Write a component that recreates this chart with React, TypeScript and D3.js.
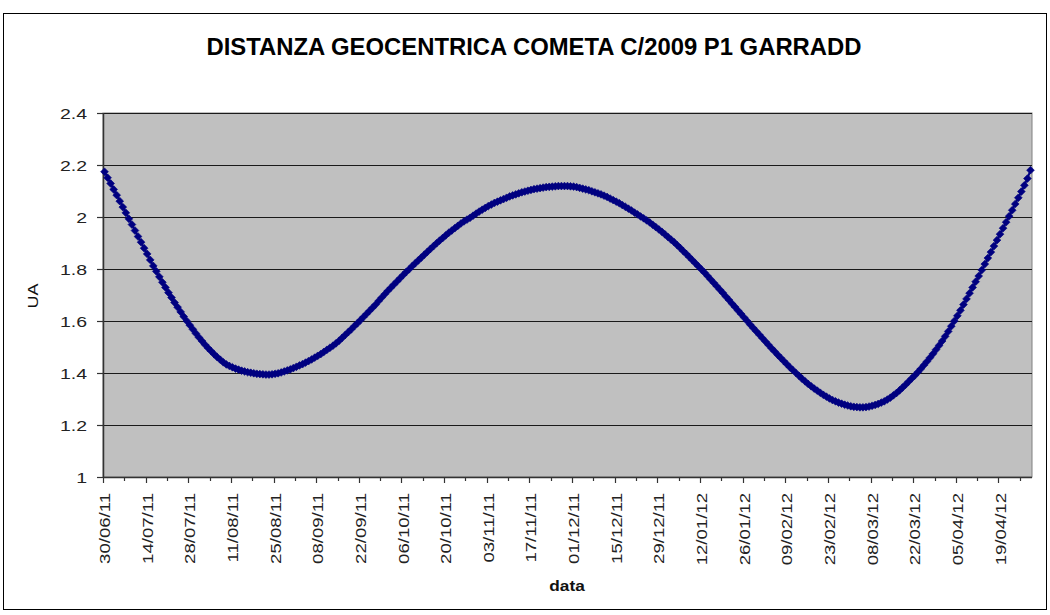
import React from "react";
import * as d3 from "d3";

const title = "DISTANZA GEOCENTRICA COMETA C/2009 P1 GARRADD";
const yTitle = "UA";
const xTitle = "data";
const startDate = new Date(2011, 5, 30);

// Daily geocentric distance (UA), 30/06/11 .. 29/04/12
const distances = [
  2.174, 2.151, 2.129, 2.106, 2.084, 2.061, 2.038, 2.016, 1.993, 1.971,
  1.948, 1.925, 1.903, 1.880, 1.858, 1.835, 1.812, 1.791, 1.770, 1.749,
  1.729, 1.709, 1.690, 1.671, 1.653, 1.635, 1.617, 1.600, 1.584, 1.568,
  1.552, 1.537, 1.523, 1.509, 1.496, 1.484, 1.472, 1.461, 1.451, 1.441,
  1.433, 1.427, 1.422, 1.417, 1.413, 1.409, 1.406, 1.403, 1.401, 1.399,
  1.397, 1.396, 1.395, 1.394, 1.394, 1.395, 1.397, 1.399, 1.402, 1.406,
  1.410, 1.414, 1.419, 1.424, 1.429, 1.434, 1.440, 1.446, 1.452, 1.459,
  1.466, 1.473, 1.481, 1.489, 1.497, 1.505, 1.514, 1.524, 1.535, 1.546,
  1.557, 1.568, 1.580, 1.591, 1.603, 1.615, 1.627, 1.639, 1.651, 1.663,
  1.677, 1.690, 1.703, 1.716, 1.728, 1.740, 1.752, 1.764, 1.776, 1.788,
  1.799, 1.811, 1.822, 1.833, 1.844, 1.855, 1.866, 1.877, 1.888, 1.899,
  1.909, 1.919, 1.929, 1.939, 1.948, 1.957, 1.966, 1.975, 1.983, 1.990,
  1.997, 2.005, 2.013, 2.021, 2.028, 2.035, 2.042, 2.048, 2.054, 2.059,
  2.064, 2.069, 2.074, 2.079, 2.083, 2.087, 2.091, 2.095, 2.098, 2.101,
  2.104, 2.107, 2.109, 2.111, 2.113, 2.115, 2.116, 2.117, 2.118, 2.119,
  2.119, 2.119, 2.119, 2.118, 2.117, 2.115, 2.112, 2.109, 2.106, 2.103,
  2.099, 2.095, 2.091, 2.087, 2.082, 2.077, 2.071, 2.065, 2.059, 2.053,
  2.046, 2.039, 2.032, 2.025, 2.017, 2.010, 2.002, 1.995, 1.987, 1.979,
  1.970, 1.961, 1.952, 1.943, 1.933, 1.923, 1.913, 1.903, 1.892, 1.881,
  1.869, 1.858, 1.846, 1.834, 1.822, 1.810, 1.798, 1.786, 1.773, 1.760,
  1.747, 1.734, 1.721, 1.708, 1.694, 1.681, 1.667, 1.654, 1.640, 1.627,
  1.613, 1.600, 1.586, 1.573, 1.560, 1.547, 1.534, 1.521, 1.508, 1.495,
  1.483, 1.470, 1.458, 1.446, 1.434, 1.422, 1.411, 1.400, 1.389, 1.378,
  1.368, 1.358, 1.349, 1.340, 1.332, 1.324, 1.316, 1.309, 1.302, 1.296,
  1.291, 1.286, 1.282, 1.278, 1.275, 1.272, 1.270, 1.269, 1.268, 1.268,
  1.269, 1.271, 1.274, 1.277, 1.281, 1.286, 1.291, 1.298, 1.305, 1.314,
  1.323, 1.333, 1.344, 1.355, 1.367, 1.379, 1.390, 1.403, 1.416, 1.430,
  1.444, 1.459, 1.474, 1.490, 1.506, 1.523, 1.541, 1.560, 1.580, 1.600,
  1.620, 1.641, 1.663, 1.685, 1.707, 1.729, 1.751, 1.773, 1.796, 1.819,
  1.842, 1.865, 1.888, 1.911, 1.934, 1.957, 1.980, 2.003, 2.026, 2.050,
  2.074, 2.098, 2.122, 2.148, 2.180,
];

const xTickLabels = [
  "30/06/11", "14/07/11", "28/07/11", "11/08/11", "25/08/11", "08/09/11",
  "22/09/11", "06/10/11", "20/10/11", "03/11/11", "17/11/11", "01/12/11",
  "15/12/11", "29/12/11", "12/01/12", "26/01/12", "09/02/12", "23/02/12",
  "08/03/12", "22/03/12", "05/04/12", "19/04/12",
];

const yTicks = [1, 1.2, 1.4, 1.6, 1.8, 2, 2.2, 2.4];

const fmt = d3.timeFormat("%d/%m/%y");
const categories = distances.map((_, i) => fmt(d3.timeDay.offset(startDate, i)));

export default function App() {
  const W = 1050, H = 615;
  const left = 103, right = 1032, top = 113, bottom = 477;

  const x = d3.scaleBand<string>().domain(categories).range([left, right]).padding(0);
  const y = d3.scaleLinear().domain([1, 2.4]).range([bottom, top]);
  const bw = x.bandwidth();
  const cx = (c: string) => (x(c) as number) + bw / 2;

  const line = d3
    .line<number>()
    .x((_, i) => cx(categories[i]))
    .y((d) => y(d));

  const marker = d3.symbol().type(d3.symbolSquare).size(30)() as string;

  const tickIdx = categories.map((_, i) => i).filter((i) => i % 7 === 0);

  return (
    <svg
      width={W}
      height={H}
      style={{ position: "absolute", left: 0, top: 0, background: "#fff" }}
      fontFamily="'Liberation Sans', Arial, sans-serif"
    >
      <rect x={0} y={0} width={W} height={H} fill="#fff" />
      <rect x={3.5} y={13.5} width={1043} height={596} fill="#fff" stroke="#000" strokeWidth={1} />

      <text
        x={534}
        y={55}
        textAnchor="middle"
        fontSize={23.5}
        fontWeight="bold"
        fill="#000"
        textLength={655}
        lengthAdjust="spacingAndGlyphs"
      >
        {title}
      </text>

      {/* plot area */}
      <rect x={left} y={top} width={right - left} height={bottom - top} fill="#c0c0c0" stroke="#808080" strokeWidth={1} />

      {yTicks.slice(1).map((t) => (
        <line key={"g" + t} x1={left} x2={right} y1={Math.round(y(t)) + 0.5} y2={Math.round(y(t)) + 0.5} stroke="#1a1a1a" strokeWidth={1} />
      ))}

      {/* axes */}
      <line x1={left + 0.5} x2={left + 0.5} y1={top} y2={bottom} stroke="#333" strokeWidth={1.5} />
      <line x1={left} x2={right} y1={bottom + 0.5} y2={bottom + 0.5} stroke="#333" strokeWidth={1.5} />

      {yTicks.map((t) => (
        <g key={"y" + t}>
          <line x1={left - 6} x2={left} y1={Math.round(y(t)) + 0.5} y2={Math.round(y(t)) + 0.5} stroke="#333" strokeWidth={1.2} />
          <g transform={`translate(${left - 16},${y(t) + 5.5}) scale(1.3,1)`}>
            <text textAnchor="end" fontSize={15} fill="#222">
              {String(t)}
            </text>
          </g>
        </g>
      ))}

      {tickIdx.map((i) => {
        const xx = Math.round(x(categories[i]) as number) + 0.5;
        const major = i % 14 === 0;
        return (
          <line key={"t" + i} x1={xx} x2={xx} y1={bottom} y2={bottom + (major ? 6 : 4)} stroke="#333" strokeWidth={1.2} />
        );
      })}

      {xTickLabels.map((lab) => {
        const i = categories.indexOf(lab);
        if (i < 0) return null;
        const xx = cx(lab) + 5.5;
        return (
          <g key={"xl" + lab} transform={`translate(${xx},${493}) rotate(-90) scale(1.24,1)`}>
            <text textAnchor="end" fontSize={15} fill="#222">
              {lab}
            </text>
          </g>
        );
      })}

      <g transform={`translate(38,296) rotate(-90) scale(1.2,1)`}>
        <text textAnchor="middle" fontSize={15} fill="#111">
          {yTitle}
        </text>
      </g>
      <g transform={`translate(567,591) scale(1.15,1)`}>
        <text textAnchor="middle" fontSize={15} fontWeight="bold" fill="#111">
          {xTitle}
        </text>
      </g>

      {/* series */}
      <path d={line(distances) as string} fill="none" stroke="#000080" strokeWidth={2} />
      {distances.map((d, i) => (
        <path
          key={"m" + i}
          d={marker}
          transform={`translate(${cx(categories[i])},${y(d)}) rotate(45)`}
          fill="#000080"
          stroke="#000080"
          strokeWidth={0.6}
        />
      ))}
    </svg>
  );
}
